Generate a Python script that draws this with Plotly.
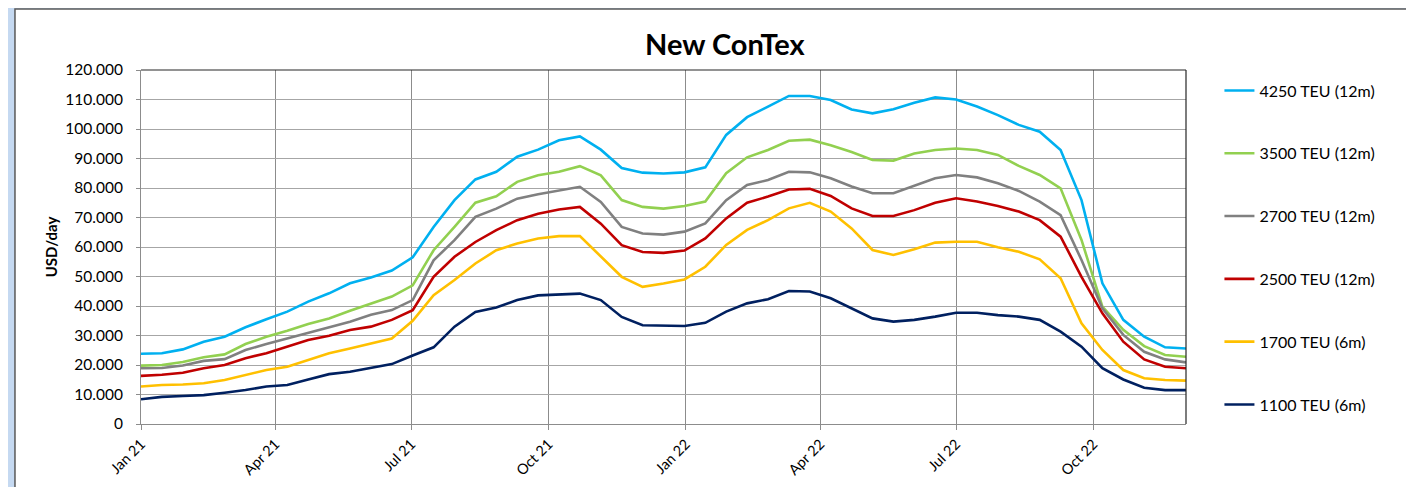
import pandas as pd
import plotly.graph_objects as go

# fortnightly readings, in thousand USD/day
dates = pd.date_range('2021-01-01', periods=51, freq='14D')

teu4250 = [23.8, 24.0, 25.3, 27.9, 29.6, 32.8, 35.5, 38.1, 41.5, 44.3, 47.7, 49.7, 52.0,
           56.5, 66.8, 75.9, 82.9, 85.5, 90.6, 93.0, 96.2, 97.5, 93.0, 86.8, 85.2, 84.9,
           85.3, 87.0, 98.0, 104.0, 107.6, 111.2, 111.2, 109.8, 106.6, 105.3, 106.7, 108.9, 110.7,
           110.0, 107.6, 104.7, 101.4, 99.1, 92.9, 75.9, 47.7, 35.3, 29.6, 26.0, 25.6]
teu3500 = [19.8, 20.0, 21.0, 22.6, 23.6, 27.1, 29.6, 31.6, 33.9, 35.8, 38.4, 40.9, 43.2,
           47.0, 58.9, 66.8, 75.0, 77.2, 82.1, 84.3, 85.5, 87.4, 84.3, 75.9, 73.6, 73.0,
           73.9, 75.4, 85.0, 90.4, 92.9, 96.0, 96.4, 94.5, 92.2, 89.5, 89.3, 91.7, 92.9,
           93.4, 92.9, 91.2, 87.5, 84.4, 79.9, 62.4, 39.8, 31.9, 26.4, 23.4, 22.8]
teu2700 = [18.9, 19.0, 19.8, 21.4, 22.0, 25.1, 27.1, 29.0, 31.0, 32.8, 34.7, 37.0, 38.6,
           42.0, 55.5, 62.3, 70.2, 73.0, 76.4, 77.9, 79.2, 80.4, 75.3, 66.8, 64.6, 64.2,
           65.2, 68.0, 75.9, 81.0, 82.7, 85.5, 85.3, 83.3, 80.5, 78.2, 78.2, 80.7, 83.3,
           84.4, 83.6, 81.6, 79.0, 75.4, 70.8, 55.6, 39.2, 30.2, 24.5, 21.9, 20.9]
teu2500 = [16.3, 16.7, 17.4, 18.9, 20.0, 22.3, 24.0, 26.2, 28.5, 29.9, 31.9, 33.0, 35.3,
           38.6, 49.9, 56.7, 61.7, 65.7, 69.1, 71.3, 72.7, 73.6, 67.9, 60.6, 58.3, 58.0,
           58.8, 62.9, 69.7, 75.0, 77.1, 79.5, 79.7, 77.3, 73.1, 70.5, 70.5, 72.5, 75.0,
           76.5, 75.4, 73.9, 72.0, 69.1, 63.5, 49.9, 37.5, 27.9, 21.9, 19.4, 18.9]
teu1700 = [12.7, 13.2, 13.4, 13.8, 14.9, 16.6, 18.3, 19.4, 21.7, 24.0, 25.6, 27.3, 29.0,
           35.0, 43.7, 48.8, 54.4, 58.9, 61.2, 62.9, 63.7, 63.7, 56.7, 49.9, 46.5, 47.6,
           49.0, 53.3, 60.7, 65.8, 69.1, 73.1, 75.0, 72.0, 66.3, 59.0, 57.3, 59.2, 61.5,
           61.8, 61.8, 59.9, 58.4, 55.8, 49.4, 34.1, 25.1, 18.3, 15.5, 14.9, 14.7]
teu1100 = [8.4, 9.2, 9.5, 9.8, 10.6, 11.5, 12.7, 13.2, 15.1, 16.9, 17.7, 18.9, 20.3,
           23.2, 26.0, 33.0, 38.0, 39.5, 42.0, 43.6, 43.9, 44.2, 42.0, 36.3, 33.5, 33.3,
           33.2, 34.3, 38.1, 40.9, 42.3, 45.1, 44.9, 42.6, 39.2, 35.8, 34.7, 35.3, 36.4,
           37.7, 37.7, 36.9, 36.4, 35.3, 31.3, 26.2, 18.9, 15.1, 12.3, 11.5, 11.5]

names = ['4250 TEU (12m)', '3500 TEU (12m)', '2700 TEU (12m)',
         '2500 TEU (12m)', '1700 TEU (6m)', '1100 TEU (6m)']
series = [teu4250, teu3500, teu2700, teu2500, teu1700, teu1100]
colours = ['#00B0F0', '#92D050', '#808080', '#C00000', '#FFC000', '#002060']

tick_dates = ['2021-01-01', '2021-04-01', '2021-07-01', '2021-10-01',
              '2022-01-01', '2022-04-01', '2022-07-01', '2022-10-01']
tick_text = ['Jan 21', 'Apr 21', 'Jul 21', 'Oct 21', 'Jan 22', 'Apr 22', 'Jul 22', 'Oct 22']

fig = go.Figure()
for name, vals, col in zip(names, series, colours):
    fig.add_trace(go.Scatter(x=dates, y=[v * 1000 for v in vals], mode='lines', name=name,
                             legendgroup=name, line=dict(color=col, width=2.6)))

# white chart panel on the blue background, plus dark top/right frame
fig.add_shape(type='rect', xref='paper', yref='paper', x0=-0.1206, x1=1.25, y0=-0.3, y1=1.1723,
              fillcolor='white', line=dict(color='#595959', width=1.5), layer='below')
fig.add_shape(type='line', xref='paper', yref='paper', x0=0, x1=1, y0=1, y1=1,
              line=dict(color='#262626', width=1.2))
fig.add_shape(type='line', xref='paper', yref='paper', x0=1, x1=1, y0=0, y1=1,
              line=dict(color='#262626', width=1.2))

fig.update_layout(
    width=1414, height=487,
    margin=dict(l=133, r=236, t=62, b=71),
    paper_bgcolor='#C5D9F1', plot_bgcolor='white',
    separators=',.',
    font=dict(family='Lato, Open Sans, sans-serif', size=13, color='black'),
    title=dict(text='<b>New ConTex</b>', x=0.507, xref='container', y=0.925, yref='container',
               xanchor='center', yanchor='middle', font=dict(size=29)),
    showlegend=True,
    legend=dict(x=1.032, y=0.99, xanchor='left', yanchor='top', tracegroupgap=39,
                itemwidth=30, font=dict(size=16), bgcolor='rgba(0,0,0,0)'),
)
fig.update_xaxes(range=['2021-01-01', '2022-12-02'], tickvals=tick_dates, ticktext=tick_text,
                 tickangle=-45, showgrid=True, gridcolor='#8C8C8C', gridwidth=1,
                 showline=True, linecolor='#8C8C8C', ticks='outside', ticklen=5,
                 tickcolor='#8C8C8C', tickfont=dict(size=14.5), automargin=False)
fig.update_yaxes(range=[0, 120000], dtick=10000, tickformat=',d', showgrid=True,
                 gridcolor='#A6A6A6', gridwidth=1, showline=True, linecolor='#8C8C8C',
                 ticks='outside', ticklen=4, tickcolor='#8C8C8C', zeroline=False,
                 ticklabelstandoff=10, automargin=False,
                 title=dict(text='<b>USD/day</b>', font=dict(size=15), standoff=4),
                 tickfont=dict(size=15.5))

fig.write_html('out.html')
